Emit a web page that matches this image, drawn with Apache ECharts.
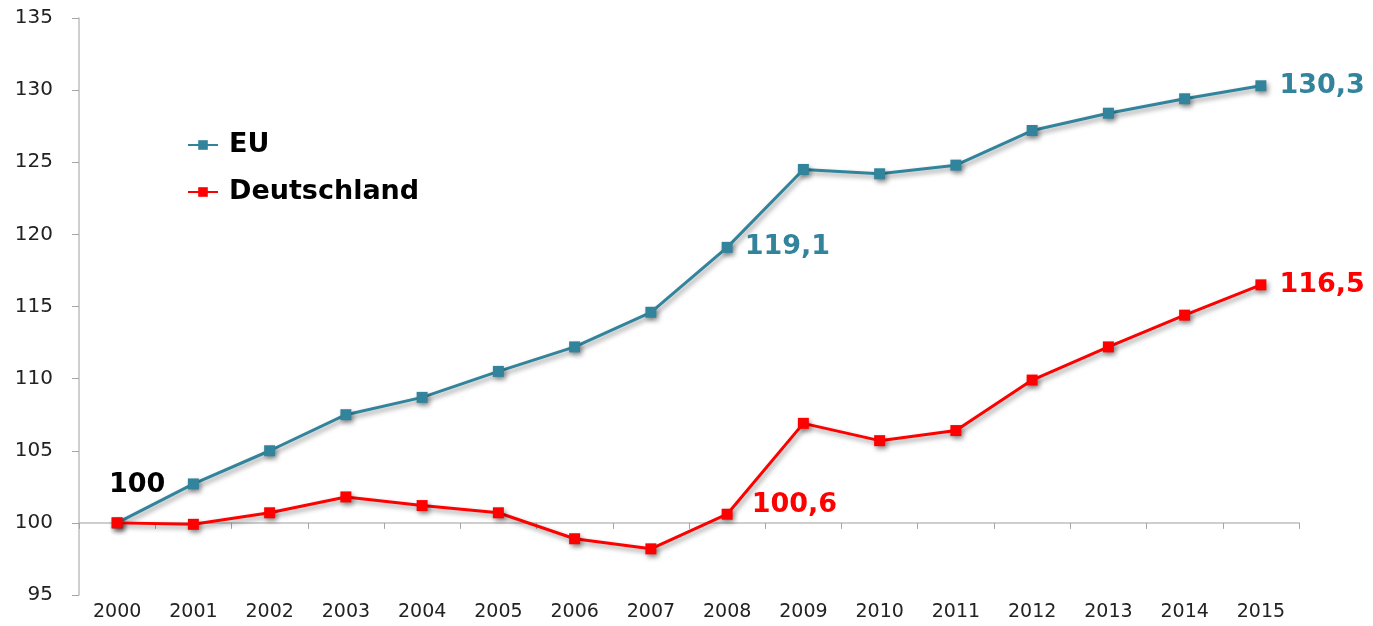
<!DOCTYPE html>
<html><head><meta charset="utf-8">
<script src="https://cdn.jsdelivr.net/npm/echarts@6/dist/echarts.min.js"></script>
<style>html,body{margin:0;padding:0;background:#fff}#c{width:1373px;height:626px}</style>
</head><body><div id="c"></div>
<script>
const years = ['2000','2001','2002','2003','2004','2005','2006','2007','2008','2009','2010','2011','2012','2013','2014','2015'];
const euValues = [100, 102.7, 105.0, 107.5, 108.7, 110.5, 112.2, 114.6, 119.1, 124.5, 124.2, 124.8, 127.2, 128.4, 129.4, 130.3];
const deValues = [100, 99.9, 100.7, 101.8, 101.2, 100.7, 98.9, 98.2, 100.6, 106.9, 105.7, 106.4, 109.9, 112.2, 114.4, 116.5];
const yTicks = {min: 95, max: 135, interval: 5};
const baseValue = 100;

const EU_COLOR = '#31849B';
const DE_COLOR = '#FF0000';
const FONT = '"DejaVu Sans", Verdana, sans-serif';
const fmt = v => String(v).replace('.', ',');

function buildData(values, labels) {
  return values.map((v, i) => labels[i] ? {value: v, label: labels[i]} : v);
}
const lblFont = {show: true, fontFamily: FONT, fontWeight: 'bold', fontSize: 27};
const euData = buildData(euValues, {
  0: Object.assign({}, lblFont, {position: 'top', offset: [20, -14], color: '#000', formatter: () => fmt(baseValue)}),
  8: Object.assign({}, lblFont, {position: 'right', distance: 12, color: EU_COLOR, formatter: p => fmt(p.value)}),
  15: Object.assign({}, lblFont, {position: 'right', distance: 13, color: EU_COLOR, formatter: p => fmt(p.value)})
});
const deData = buildData(deValues, {
  8: Object.assign({}, lblFont, {position: 'right', distance: 19, offset: [0, -9], color: DE_COLOR, formatter: p => fmt(p.value)}),
  15: Object.assign({}, lblFont, {position: 'right', distance: 13, color: DE_COLOR, formatter: p => fmt(p.value)})
});

const chart = echarts.init(document.getElementById('c'), null, {renderer: 'canvas'});
const gridTop = 18, gridBottom = 31;
const gridH = 626 - gridTop - gridBottom;
const baseOffset = -gridH * (baseValue - yTicks.min) / (yTicks.max - yTicks.min);

const shadow = {shadowColor: 'rgba(0,0,0,0.4)', shadowBlur: 5, shadowOffsetX: 2, shadowOffsetY: 3};
chart.setOption({
  animation: false,
  textStyle: {fontFamily: FONT},
  grid: {left: 79, right: 74, top: gridTop, bottom: gridBottom},
  legend: {
    orient: 'vertical', left: 187, top: 129, padding: 0, itemGap: 15, itemWidth: 30, itemHeight: 12,
    textStyle: {fontSize: 27, lineHeight: 32, fontWeight: 'bold', color: '#000', fontFamily: FONT, padding: [0,0,0,6]},
    data: ['EU', 'Deutschland']
  },
  xAxis: [{
    type: 'category', data: years, boundaryGap: true, position: 'bottom',
    axisLine: {show: false}, axisTick: {show: false},
    axisLabel: {fontSize: 19, color: '#222', margin: 8}
  }, {
    type: 'category', data: years, boundaryGap: true, position: 'bottom', offset: baseOffset,
    axisLine: {show: true, lineStyle: {color: '#BFBFBF', width: 1.5}},
    axisTick: {show: true, length: 6, lineStyle: {color: '#A6A6A6'}},
    axisLabel: {show: false}
  }],
  yAxis: {
    type: 'value', min: yTicks.min, max: yTicks.max, interval: yTicks.interval,
    axisLine: {show: true, lineStyle: {color: '#BFBFBF', width: 1.5}},
    axisTick: {show: true, length: 7, lineStyle: {color: '#A6A6A6'}},
    splitLine: {show: false},
    axisLabel: {fontSize: 20, color: '#222', margin: 26}
  },
  series: [{
    name: 'EU', type: 'line', data: euData, xAxisIndex: 0,
    symbol: 'rect', symbolSize: 11, color: EU_COLOR,
    lineStyle: Object.assign({width: 3, color: EU_COLOR}, shadow),
    itemStyle: Object.assign({color: EU_COLOR}, shadow),
    z: 3
  }, {
    name: 'Deutschland', type: 'line', data: deData, xAxisIndex: 0,
    symbol: 'rect', symbolSize: 11, color: DE_COLOR,
    lineStyle: Object.assign({width: 3, color: DE_COLOR}, shadow),
    itemStyle: Object.assign({color: DE_COLOR}, shadow),
    z: 4
  }]
});
</script></body></html>
